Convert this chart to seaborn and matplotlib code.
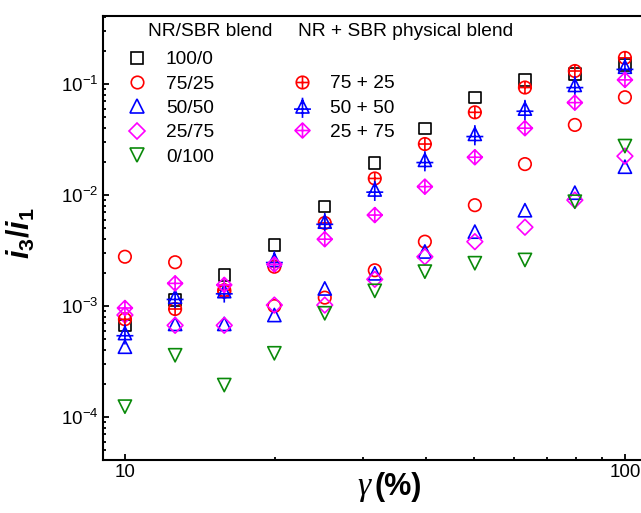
import matplotlib
matplotlib.use("Agg")
import matplotlib.pyplot as plt
from matplotlib.path import Path
from matplotlib.lines import Line2D
from matplotlib.ticker import FuncFormatter, NullFormatter
import seaborn as sns

# strain amplitude (%)
strain = [10, 12.6, 15.8, 19.9, 25.1, 31.6, 39.8, 50.1, 63.1, 79.4, 100]

# NR/SBR blend
blend_labels = ["100/0", "75/25", "50/50", "25/75", "0/100"]
blend_100_0 = [6.7e-4, 1.13e-3, 1.9e-3, 3.55e-3, 7.85e-3, 0.0194, 0.040, 0.076, 0.109, 0.123, 0.148]
blend_75_25 = [2.78e-3, 2.48e-3, 1.35e-3, 1.0e-3, 1.19e-3, 2.1e-3, 3.8e-3, 8.1e-3, 0.019, 0.0428, 0.076]
blend_50_50 = [4.3e-4, 6.9e-4, 6.9e-4, 8.3e-4, 1.44e-3, 1.97e-3, 3.1e-3, 4.68e-3, 7.3e-3, 0.0105, 0.018]
blend_25_75 = [8.3e-4, 6.7e-4, 6.7e-4, 1.02e-3, 1.02e-3, 1.74e-3, 2.78e-3, 3.8e-3, 5.13e-3, 9.0e-3, 0.0224]
blend_0_100 = [1.24e-4, 3.6e-4, 1.94e-4, 3.75e-4, 8.6e-4, 1.37e-3, 2.04e-3, 2.43e-3, 2.6e-3, 8.7e-3, 0.0276]

# NR + SBR physical blend
phys_labels = ["75 + 25", "50 + 50", "25 + 75"]
phys_75_25 = [7.6e-4, 9.4e-4, 1.39e-3, 2.26e-3, 5.6e-3, 0.0141, 0.0288, 0.0556, 0.093, 0.131, 0.172]
phys_50_50 = [5.7e-4, 1.21e-3, 1.36e-3, 2.6e-3, 5.75e-3, 0.0112, 0.0207, 0.0355, 0.060, 0.098, 0.143]
phys_25_75 = [9.6e-4, 1.6e-3, 1.55e-3, 2.37e-3, 4.0e-3, 6.6e-3, 0.0119, 0.0219, 0.040, 0.068, 0.109]

sns.set_style("ticks")
plt.rcParams["font.family"] = ["Liberation Sans", "DejaVu Sans"]
plt.rcParams["mathtext.fontset"] = "custom"
plt.rcParams["mathtext.it"] = "Liberation Sans:italic:bold"
plt.rcParams["mathtext.rm"] = "Liberation Sans:bold"
plt.rcParams["mathtext.bf"] = "Liberation Sans:bold"
for k in ["text.color", "axes.labelcolor", "xtick.color", "ytick.color", "axes.edgecolor"]:
    plt.rcParams[k] = "black"

GREEN = "#0a8a0a"

# crossed markers: outline + plus
plus = Path([(-1, 0), (1, 0), (0, -1), (0, 1)],
            [Path.MOVETO, Path.LINETO, Path.MOVETO, Path.LINETO])
circ_plus = Path.make_compound_path(Path.unit_circle(), plus)
diam_plus = Path.make_compound_path(
    Path([(0, 1), (1, 0), (0, -1), (-1, 0), (0, 1)],
         [Path.MOVETO, Path.LINETO, Path.LINETO, Path.LINETO, Path.CLOSEPOLY]),
    plus)
tri_plus = Path.make_compound_path(
    Path([(0, 1), (-1, -1), (1, -1), (0, 1)],
         [Path.MOVETO, Path.LINETO, Path.LINETO, Path.CLOSEPOLY]),
    Path([(-1.3, -0.4), (1.3, -0.4), (0, 1.35), (0, -1.75)],
         [Path.MOVETO, Path.LINETO, Path.MOVETO, Path.LINETO]))

# (values, marker, size in pt, colour)
blend_series = [
    (blend_100_0, "s", 8.2, "black"),
    (blend_75_25, "o", 9.0, "red"),
    (blend_50_50, "^", 9.5, "blue"),
    (blend_25_75, "D", 8.0, "magenta"),
    (blend_0_100, "v", 9.5, GREEN),
]
phys_series = [
    (phys_75_25, circ_plus, 9.0, "red"),
    (phys_50_50, tri_plus, 16.4, "blue"),
    (phys_25_75, diam_plus, 10.8, "magenta"),
]

fig = plt.figure(figsize=(6.41, 5.13), dpi=100)
ax = fig.add_axes([0.1607, 0.1033, 0.876, 0.8655])

for vals, m, ms, c in blend_series + phys_series:
    sns.scatterplot(x=strain, y=vals, marker=m, s=ms ** 2, color=c,
                    facecolor="none", edgecolor=c, linewidth=1.2,
                    ax=ax, zorder=3, legend=False)

ax.set_xscale("log")
ax.set_yscale("log")
ax.set_xlim(9.04, 120)
ax.set_ylim(4.1e-5, 0.41)

ax.xaxis.set_major_formatter(FuncFormatter(lambda v, p: f"{v:g}"))
ax.xaxis.set_minor_formatter(NullFormatter())
ax.yaxis.set_minor_formatter(NullFormatter())
ax.tick_params(which="both", direction="in", width=1.3, labelsize=13.5)
ax.tick_params(which="major", length=4.5)
ax.tick_params(which="minor", length=2.5)
ax.tick_params(axis="x", pad=3)
for sp in ax.spines.values():
    sp.set_linewidth(1.5)

ax.set_xlabel("")
ax.set_ylabel(r"$i_3/i_1$", fontsize=22)
ax.yaxis.set_label_coords(-0.118, 0.51)

fig.text(371 / 641, 1 - 495 / 513, "γ", family="Liberation Serif",
         style="italic", fontsize=24, ha="right", va="baseline")
fig.text(374 / 641, 1 - 495 / 513, "(%)", fontweight="bold",
         fontsize=22, ha="left", va="baseline")


def handles(series):
    return [Line2D([], [], ls="none", marker=m, ms=ms, mfc="none", mec=c, mew=1.2)
            for _, m, ms, c in series]


leg_kw = dict(frameon=False, fontsize=13.8, handlelength=1.0, borderpad=0,
              borderaxespad=0, labelspacing=0.36, loc="upper left")
leg1 = ax.legend(handles(blend_series), blend_labels, handletextpad=1.0,
                 bbox_to_anchor=(0.0438, 0.921), **leg_kw)
ax.add_artist(leg1)
ax.legend(handles(phys_series), phys_labels, handletextpad=0.94,
          bbox_to_anchor=(0.3375, 0.867), **leg_kw)

ax.text(0.080, 0.964, "NR/SBR blend", transform=ax.transAxes,
        fontsize=13.8, va="center", ha="left")
ax.text(0.347, 0.964, "NR + SBR physical blend", transform=ax.transAxes,
        fontsize=13.8, va="center", ha="left")

fig.savefig("out.png", dpi=100)
